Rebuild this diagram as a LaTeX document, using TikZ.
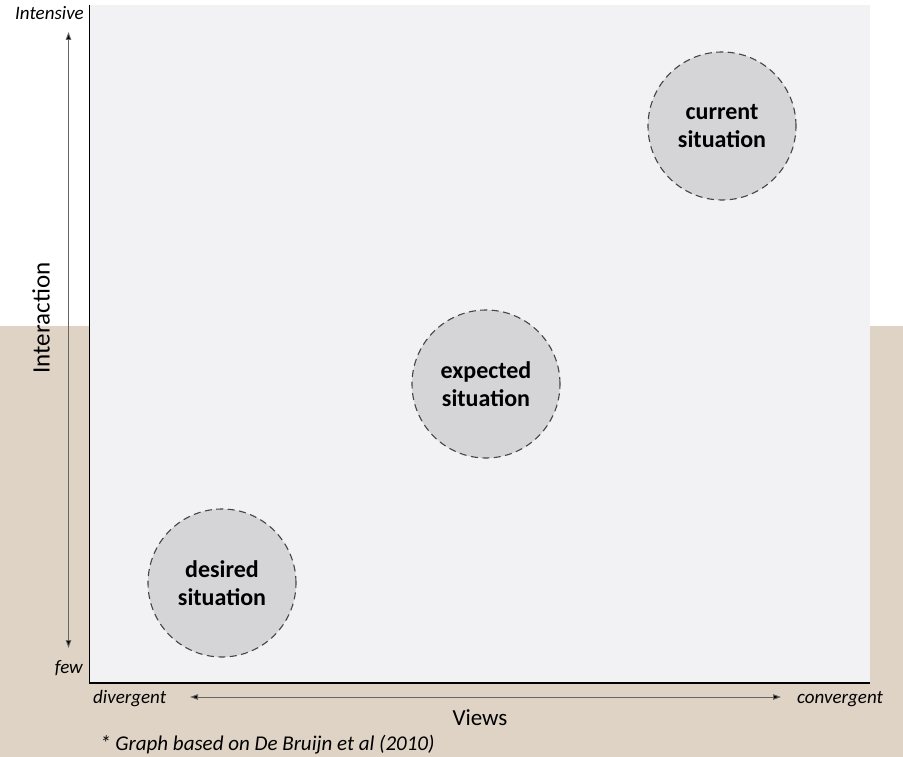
\documentclass[tikz,border=0pt]{standalone}
\usepackage{fontspec}
\setmainfont{Carlito}
\usetikzlibrary{arrows.meta}
\definecolor{plotbg}{HTML}{F2F2F4}
\definecolor{tan}{HTML}{DFD3C6}
\definecolor{bubble}{HTML}{D5D5D8}
\definecolor{rim}{HTML}{454545}
\begin{document}
\begin{tikzpicture}[x=1pt,y=-1pt,
  situation/.style={circle,draw=rim,fill=bubble,dash pattern=on 7pt off 4.5pt,line width=1.1pt,
    minimum size=148pt,inner sep=0pt,align=center,font=\fontsize{24}{28}\selectfont\bfseries},
  axislabel/.style={font=\fontsize{19}{22}\selectfont\itshape,inner sep=0pt},
  spanarrow/.style={draw=gray!80!black,line width=0.9pt,{Triangle[length=8pt,width=5.5pt,fill=black]}-{Triangle[length=8pt,width=5.5pt,fill=black]}}]
% page and backgrounds
\useasboundingbox (0,0) rectangle (903,757);
\fill[white] (0,0) rectangle (903,326);
\fill[tan] (0,326) rectangle (903,757);
\fill[plotbg] (89.5,5) rectangle (870,683);
% axes
\coordinate (o) at (89.5,683);
\coordinate (ytop) at (89.5,5);
\coordinate (xend) at (870,683);
\draw[black,line width=1.3pt] (ytop) -- (o) -- (xend);
% situations
\node[situation] (cur) at (722,126) {current\\situation};
\node[situation] (exp) at (486,384) {expected\\situation};
\node[situation] (des) at (222,583) {desired\\situation};
% vertical range arrow
\coordinate (vt) at (68.5,32);
\coordinate (vb) at (68.5,648);
\draw[spanarrow] (vt) -- (vb);
% horizontal range arrow
\coordinate (hl) at (190,697);
\coordinate (hr) at (781,697);
\draw[spanarrow] (hl) -- (hr);
% labels
\node[axislabel,anchor=base east] (intensive) at (84,20) {Intensive};
\node[axislabel,anchor=base east] (few) at (83,673) {few};
\node[axislabel,anchor=base west] (divergent) at (93,703) {divergent};
\node[axislabel,anchor=base west] (convergent) at (797,703) {convergent};
\node[font=\fontsize{25}{28}\selectfont,rotate=90] (interaction) at (41,318) {Interaction};
\node[font=\fontsize{23}{26}\selectfont,anchor=base] (views) at (480,725) {Views};
\node[font=\fontsize{21}{24}\selectfont\itshape,anchor=base west,inner sep=0pt] (note) at (100,750) {* Graph based on De Bruijn et al (2010)};
\end{tikzpicture}
\end{document}
